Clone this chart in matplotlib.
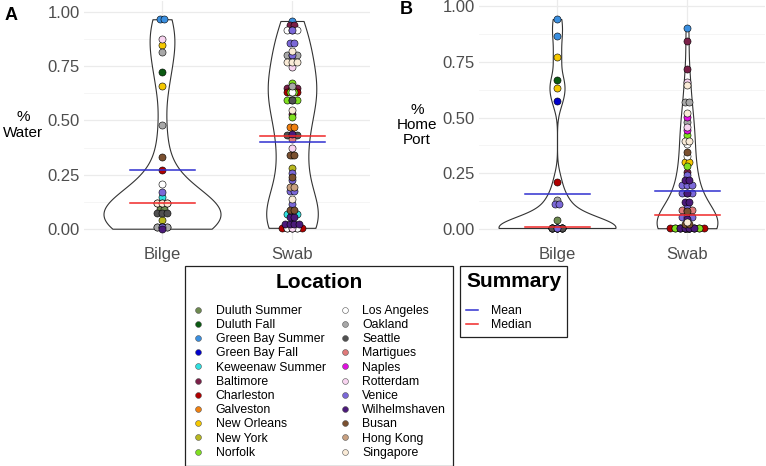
import matplotlib
matplotlib.use("Agg")
import matplotlib.pyplot as plt
import numpy as np
from matplotlib.lines import Line2D

plt.rcParams['font.family'] = ['Liberation Sans', 'DejaVu Sans']

# colour per location (legend order, also the drawing order of the dots)
locations = ['Duluth Summer', 'Duluth Fall', 'Green Bay Summer', 'Green Bay Fall',
             'Keweenaw Summer', 'Baltimore', 'Charleston', 'Galveston', 'New Orleans',
             'New York', 'Norfolk', 'Los Angeles', 'Oakland', 'Seattle', 'Martigues',
             'Naples', 'Rotterdam', 'Venice', 'Wilhelmshaven', 'Busan', 'Hong Kong',
             'Singapore']
loc_colors = ['#6E8A50', '#0B5A12', '#3A8FE0', '#0000CC', '#30E0E0', '#7A2048',
              '#B00000', '#F08010', '#F5C800', '#B8B820', '#80E020', '#FFFFFF',
              '#A8A8A8', '#505050', '#E07A7A', '#E010E0', '#F8D4F0', '#7B68D8',
              '#4B1A7A', '#7A5030', '#C8A080', '#FAEBD7']
cmap = dict(zip(locations, loc_colors))

groups = ['Bilge', 'Swab']

# Panel A: % Water  (value, location) per sample
water_bilge = [
    (0.966, 'Green Bay Summer'), (0.966, 'Green Bay Summer'), (0.874, 'Rotterdam'),
    (0.846, 'New Orleans'), (0.659, 'New Orleans'), (0.817, 'Oakland'), (0.478, 'Oakland'),
    (0.725, 'Duluth Fall'), (0.332, 'Busan'), (0.272, 'Charleston'), (0.210, 'Los Angeles'),
    (0.172, 'Venice'), (0.146, 'Keweenaw Summer'),
    (0.121, 'Hong Kong'), (0.121, 'Hong Kong'), (0.121, 'Hong Kong'),
    (0.121, 'Singapore'), (0.121, 'Singapore'), (0.121, 'Singapore'),
    (0.092, 'Duluth Summer'), (0.092, 'Duluth Summer'),
    (0.075, 'Seattle'), (0.075, 'Seattle'), (0.075, 'Seattle'), (0.042, 'New York'),
    (0.010, 'Los Angeles'), (0.010, 'Los Angeles'), (0.010, 'Los Angeles'),
    (0.010, 'Oakland'), (0.010, 'Oakland'), (0.010, 'Oakland'), (0.010, 'Venice'),
    (0.008, 'Duluth Summer'), (0.010, 'Keweenaw Summer'), (0.002, 'Wilhelmshaven'),
]
water_swab = [
    (0.958, 'Green Bay Summer'), (0.938, 'Baltimore'), (0.938, 'Baltimore'),
    (0.917, 'Los Angeles'), (0.917, 'Los Angeles'), (0.917, 'Los Angeles'), (0.917, 'Venice'),
    (0.856, 'Venice'), (0.856, 'Venice'), (0.822, 'Singapore'),
    (0.800, 'Oakland'), (0.800, 'Oakland'), (0.800, 'Oakland'), (0.800, 'Venice'),
    (0.768, 'Singapore'), (0.768, 'Singapore'), (0.768, 'Singapore'), (0.745, 'Rotterdam'),
    (0.674, 'Norfolk'), (0.659, 'Oakland'),
    (0.650, 'Baltimore'), (0.650, 'Baltimore'), (0.650, 'Baltimore'), (0.650, 'New Orleans'),
    (0.633, 'Charleston'), (0.633, 'Charleston'), (0.633, 'Charleston'), (0.633, 'Los Angeles'),
    (0.630, 'Norfolk'), (0.630, 'Norfolk'),
    (0.595, 'Norfolk'), (0.595, 'Norfolk'), (0.595, 'Norfolk'), (0.595, 'Seattle'),
    (0.550, 'Singapore'), (0.530, 'Baltimore'), (0.515, 'Norfolk'),
    (0.471, 'Galveston'), (0.471, 'Galveston'),
    (0.433, 'Seattle'), (0.433, 'Seattle'), (0.433, 'Seattle'), (0.440, 'Wilhelmshaven'),
    (0.413, 'Martigues'), (0.372, 'Rotterdam'),
    (0.340, 'Busan'), (0.340, 'Busan'), (0.340, 'New York'), (0.280, 'New York'),
    (0.260, 'Venice'), (0.241, 'Busan'), (0.224, 'Venice'),
    (0.195, 'Hong Kong'), (0.195, 'Hong Kong'), (0.190, 'Venice'),
    (0.160, 'Venice'), (0.137, 'Singapore'), (0.114, 'Venice'),
    (0.088, 'Busan'), (0.088, 'Busan'), (0.088, 'Naples'),
    (0.068, 'Keweenaw Summer'), (0.068, 'Keweenaw Summer'), (0.068, 'Keweenaw Summer'),
    (0.058, 'Wilhelmshaven'), (0.058, 'Wilhelmshaven'),
    (0.022, 'Wilhelmshaven'), (0.022, 'Wilhelmshaven'), (0.022, 'Wilhelmshaven'),
    (0.022, 'Wilhelmshaven'), (0.030, 'Venice'),
    (0.006, 'Charleston'), (0.006, 'Charleston'), (0.006, 'Charleston'), (0.006, 'Charleston'),
    (0.006, 'Charleston'), (0.006, 'Los Angeles'), (0.006, 'Los Angeles'),
    (0.006, 'Los Angeles'), (0.006, 'Rotterdam'),
]

# Panel B: % Home Port
home_bilge = [
    (0.942, 'Green Bay Summer'), (0.867, 'Green Bay Summer'), (0.770, 'New Orleans'),
    (0.631, 'New Orleans'), (0.668, 'Duluth Fall'), (0.575, 'Green Bay Fall'),
    (0.212, 'Charleston'), (0.128, 'Oakland'), (0.110, 'Venice'), (0.110, 'Venice'),
    (0.042, 'Duluth Summer'),
    (0.004, 'Duluth Summer'), (0.004, 'Duluth Summer'), (0.004, 'Duluth Summer'),
    (0.004, 'Keweenaw Summer'),
    (0.004, 'Charleston'), (0.004, 'Charleston'), (0.004, 'Charleston'),
    (0.004, 'Los Angeles'), (0.004, 'Los Angeles'), (0.004, 'Los Angeles'),
    (0.004, 'Oakland'), (0.004, 'Oakland'), (0.004, 'Oakland'),
    (0.004, 'Seattle'), (0.004, 'Seattle'), (0.004, 'Seattle'), (0.004, 'Venice'),
]
home_swab = [
    (0.900, 'Green Bay Summer'), (0.845, 'Baltimore'), (0.720, 'Baltimore'),
    (0.257, 'Baltimore'), (0.660, 'Rotterdam'), (0.459, 'Rotterdam'),
    (0.646, 'Singapore'), (0.519, 'Singapore'), (0.395, 'Singapore'), (0.395, 'Singapore'),
    (0.033, 'Singapore'), (0.571, 'Oakland'), (0.571, 'Oakland'), (0.481, 'Oakland'),
    (0.503, 'Naples'), (0.444, 'Naples'), (0.422, 'Norfolk'), (0.284, 'Norfolk'),
    (0.380, 'Los Angeles'), (0.329, 'Los Angeles'), (0.347, 'Busan'),
    (0.302, 'New Orleans'), (0.302, 'New Orleans'),
    (0.242, 'Venice'), (0.195, 'Venice'), (0.195, 'Venice'), (0.195, 'Venice'),
    (0.160, 'Venice'), (0.160, 'Venice'), (0.160, 'Venice'), (0.105, 'Venice'),
    (0.045, 'Venice'), (0.063, 'Venice'), (0.063, 'Venice'),
    (0.227, 'Wilhelmshaven'), (0.212, 'Wilhelmshaven'), (0.160, 'Wilhelmshaven'),
    (0.130, 'Wilhelmshaven'), (0.115, 'Wilhelmshaven'), (0.045, 'Wilhelmshaven'),
    (0.093, 'Martigues'), (0.078, 'Martigues'), (0.078, 'Martigues'),
    (0.078, 'Busan'), (0.021, 'Busan'), (0.021, 'Busan'), (0.021, 'Seattle'),
    (0.021, 'Oakland'), (0.021, 'Los Angeles'), (0.021, 'Martigues'),
    (0.003, 'Charleston'), (0.003, 'Charleston'), (0.003, 'Charleston'), (0.003, 'Charleston'),
    (0.003, 'Charleston'), (0.003, 'Charleston'), (0.003, 'Charleston'), (0.003, 'Charleston'),
    (0.003, 'Norfolk'), (0.003, 'Norfolk'), (0.003, 'Norfolk'), (0.003, 'Norfolk'),
    (0.003, 'Norfolk'), (0.003, 'Norfolk'),
    (0.003, 'Wilhelmshaven'), (0.003, 'Wilhelmshaven'), (0.003, 'Wilhelmshaven'),
    (0.003, 'Wilhelmshaven'), (0.003, 'Galveston'), (0.003, 'Keweenaw Summer'),
    (0.003, 'New York'), (0.003, 'New York'), (0.003, 'Duluth Summer'),
    (0.003, 'Duluth Summer'), (0.003, 'Green Bay Fall'), (0.003, 'Baltimore'),
    (0.003, 'Baltimore'),
]

# summary lines
water_mean = [0.273, 0.402]
water_median = [0.120, 0.428]
home_mean = [0.158, 0.168]
home_median = [0.008, 0.062]

BINW = 0.032       # dotplot bin width (y units)
DOT_X = 0.038      # horizontal step between stacked dots (x units)


def nrd0(x):
    hi = np.std(x, ddof=1)
    iqr = np.subtract(*np.percentile(x, [75, 25]))
    lo = min(hi, iqr / 1.34)
    if lo == 0:
        lo = hi
    return 0.9 * lo * len(x) ** -0.2


def kde(x, grid):
    x = np.asarray(x)
    bw = nrd0(x)
    z = (grid[:, None] - x[None, :]) / bw
    return np.exp(-0.5 * z ** 2).sum(axis=1) / (len(x) * bw * np.sqrt(2 * np.pi))


def dot_stack(vals, binw):
    # dot-density binning, dots centred side by side in each bin
    vals = np.sort(np.asarray(vals))
    xs, ys = [], []
    i = 0
    while i < len(vals):
        j = i
        while j < len(vals) and vals[j] < vals[i] + binw:
            j += 1
        k = j - i
        centre = (vals[i] + vals[j - 1]) / 2
        for n in range(k):
            xs.append(n - (k - 1) / 2)
            ys.append(centre)
        i = j
    return np.array(xs), np.array(ys)


def draw_panel(ax, data, means, medians):
    allvals = [np.array([v for v, _ in d]) for d in data]
    grids = [np.linspace(v.min(), v.max(), 512) for v in allvals]
    dens = [kde(v, g) for v, g in zip(allvals, grids)]
    dmax = max(d.max() for d in dens)
    for i, (d, g, dn) in enumerate(zip(data, grids, dens)):
        pos = i + 1
        w = dn / dmax * 0.45
        ax.fill_betweenx(g, pos - w, pos + w, facecolor='white', edgecolor='#333333',
                         linewidth=0.8, zorder=2)
        # one stack per location, drawn in legend order
        for loc in locations:
            v = [val for val, l in d if l == loc]
            if not v:
                continue
            xs, ys = dot_stack(v, BINW)
            ax.scatter(pos + xs * DOT_X, ys, s=26, color=cmap[loc],
                       edgecolors='black', linewidths=0.4, zorder=3)
        ax.plot([pos - 0.25, pos + 0.25], [means[i]] * 2, color='#3030D0', lw=1.1, zorder=4)
        ax.plot([pos - 0.25, pos + 0.25], [medians[i]] * 2, color='#F02828', lw=1.1, zorder=4)

    ax.set_ylim(-0.05, 1.05)
    ax.set_xlim(0.4, 2.6)
    ax.set_xticks([1, 2])
    ax.set_xticklabels(groups)
    ax.set_yticks([0, 0.25, 0.5, 0.75, 1.0])
    ax.set_yticklabels(['0.00', '0.25', '0.50', '0.75', '1.00'])
    ax.set_yticks([0.125, 0.375, 0.625, 0.875], minor=True)
    ax.grid(True, which='major', color='#EBEBEB', lw=0.9, zorder=0)
    ax.grid(True, which='minor', axis='y', color='#F4F4F4', lw=0.6, zorder=0)
    ax.set_axisbelow(True)
    ax.tick_params(which='both', length=0, labelsize=12, colors='#4D4D4D')
    ax.tick_params(axis='y', pad=3)
    ax.tick_params(axis='x', pad=5)
    for s in ax.spines.values():
        s.set_visible(False)


W, H = 766, 466
fig = plt.figure(figsize=(W / 100, H / 100), dpi=100)

axA = fig.add_axes([84 / W, 1 - 240 / H, 286 / W, 239 / H])
draw_panel(axA, [water_bilge, water_swab], water_mean, water_median)
axA.set_ylabel('%\nWater', rotation=0, fontsize=11, linespacing=1.1, ha='center', va='center')
axA.yaxis.set_label_coords((23 - 84) / 286, (240 - 125) / 239)

axB = fig.add_axes([479 / W, 1 - 240 / H, 286 / W, 245 / H])
draw_panel(axB, [home_bilge, home_swab], home_mean, home_median)
axB.set_ylabel('%\nHome\nPort', rotation=0, fontsize=11, linespacing=1.1, ha='center', va='center')
axB.yaxis.set_label_coords((417 - 479) / 286, (240 - 125) / 245)

fig.text(11 / W, 1 - 15 / H, 'A', fontsize=13, fontweight='bold', ha='center', va='center')
fig.text(406 / W, 1 - 10 / H, 'B', fontsize=13, fontweight='bold', ha='center', va='center')

# Location legend
handles = [Line2D([], [], ls='none', marker='o', markersize=4.2, markerfacecolor=c,
                  markeredgecolor='#555555', markeredgewidth=0.4) for c in loc_colors]
legL = fig.legend(handles, locations, ncol=2, loc='upper left',
                  bbox_to_anchor=(185 / W, 1 - 266 / H), borderaxespad=0,
                  title='Location', fontsize=8.8, handlelength=1.0, handletextpad=0.9,
                  columnspacing=1.1, labelspacing=0.18, borderpad=0.6,
                  fancybox=False, edgecolor='#222222', framealpha=1,
                  title_fontproperties={'weight': 'bold', 'size': 15})
legL.get_frame().set_linewidth(0.9)
legL._legend_box.sep = 9

# Summary legend
sh = [Line2D([], [], color='#3030D0', lw=1.1), Line2D([], [], color='#F02828', lw=1.1)]
legS = fig.legend(sh, ['Mean', 'Median'], loc='upper left',
                  bbox_to_anchor=(460 / W, 1 - 266 / H), borderaxespad=0,
                  title='Summary', fontsize=8.8, handlelength=1.0, handletextpad=1.0,
                  labelspacing=0.18, borderpad=0.5, fancybox=False, alignment='left',
                  edgecolor='#222222', framealpha=1,
                  title_fontproperties={'weight': 'bold', 'size': 15})
legS.get_frame().set_linewidth(0.9)
legS._legend_box.sep = 10

fig.savefig('out.png', dpi=100)
